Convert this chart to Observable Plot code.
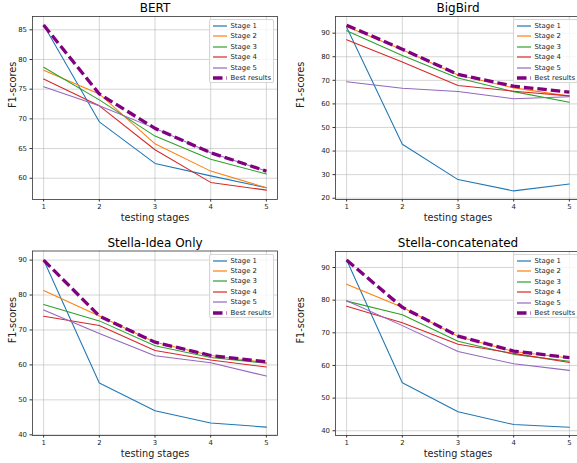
<!DOCTYPE html>
<html>
<head>
<meta charset="utf-8">
<script src="https://cdn.jsdelivr.net/npm/d3@7"></script>
<script src="https://cdn.jsdelivr.net/npm/@observablehq/plot@0.6"></script>
<style>
  html, body { margin: 0; padding: 0; background: white; }
  #wrap { position: relative; width: 577px; height: 463px; overflow: hidden; background: white; font-family: "DejaVu Sans", sans-serif; }
  #wrap > svg { position: absolute; }
  .legend { position: absolute; width: 65px; height: 64px; box-sizing: border-box; background: rgba(255,255,255,0.8); border: 1px solid rgba(204,204,204,0.8); border-radius: 2px; }
  .legend .row { position: absolute; left: 0; height: 10px; display: flex; align-items: center; font-size: 6.9px; color: #222; white-space: nowrap; }
  .legend .row svg { margin-left: 3px; margin-right: 4px; }
</style>
</head>
<body>
<div id="wrap"></div>
<script>
// ---- data ----
const stages = [1, 2, 3, 4, 5];
const seriesNames = ["Stage 1", "Stage 2", "Stage 3", "Stage 4", "Stage 5", "Best results"];
const stageColors = ["#1f77b4", "#ff7f0e", "#2ca02c", "#d62728", "#9467bd"];
const bestColor = "#800080";

const bertTitle = "BERT";
const bert1 = [85.8, 69.5, 62.5, 60.4, 58.4];
const bert2 = [78.2, 74.2, 65.8, 61.2, 58.4];
const bert3 = [78.7, 73.2, 67.1, 63.2, 60.7];
const bert4 = [76.7, 72.2, 64.8, 59.3, 58.0];
const bert5 = [75.4, 72.2, 68.4, 64.3, 61.2];
const bertBest = [85.8, 74.2, 68.4, 64.3, 61.2];
const bertTicks = [60, 65, 70, 75, 80, 85];

const bigbirdTitle = "BigBird";
const bigbird1 = [92.5, 42.9, 27.9, 23.1, 26.0];
const bigbird2 = [92.8, 83.0, 72.3, 66.8, 63.3];
const bigbird3 = [91.0, 80.5, 71.0, 65.2, 60.7];
const bigbird4 = [87.2, 77.8, 67.8, 65.4, 63.4];
const bigbird5 = [69.4, 66.6, 65.3, 62.2, 63.0];
const bigbirdBest = [93.4, 83.2, 72.5, 67.5, 65.0];
const bigbirdTicks = [20, 30, 40, 50, 60, 70, 80, 90];

const ideaTitle = "Stella-Idea Only";
const idea1 = [90.0, 54.8, 46.9, 43.4, 42.2];
const idea2 = [81.3, 74.0, 66.5, 62.7, 60.7];
const idea3 = [77.3, 72.6, 65.5, 62.1, 60.5];
const idea4 = [73.9, 71.3, 64.1, 61.4, 59.4];
const idea5 = [75.7, 69.0, 62.6, 60.6, 56.8];
const ideaBest = [90.0, 74.0, 66.5, 62.7, 60.9];
const ideaTicks = [40, 50, 60, 70, 80, 90];

const concatTitle = "Stella-concatenated";
const concat1 = [92.3, 54.7, 45.8, 41.9, 41.1];
const concat2 = [84.9, 77.8, 68.9, 64.3, 62.3];
const concat3 = [79.7, 75.5, 67.4, 63.4, 61.3];
const concat4 = [78.1, 73.1, 66.5, 63.7, 60.9];
const concat5 = [79.8, 72.2, 64.3, 60.5, 58.5];
const concatBest = [92.3, 77.8, 69.0, 64.4, 62.4];
const concatTicks = [40, 50, 60, 70, 80, 90];

const xLabel = "testing stages";
const yLabel = "F1-scores";

// ---- layout (not data) ----
const panels = [
  {title: bertTitle, series: [bert1, bert2, bert3, bert4, bert5], best: bertBest, ticks: bertTicks,
   domain: [56.42, 87.24], left: 0, top: 0, width: 288, height: 230, ml: 32, mr: 11, mt: 16, mb: 31, lgShift: 0},
  {title: bigbirdTitle, series: [bigbird1, bigbird2, bigbird3, bigbird4, bigbird5], best: bigbirdBest, ticks: bigbirdTicks,
   domain: [19.45, 97.07], left: 288, top: 0, width: 293, height: 230, ml: 47, mr: 1, mt: 16, mb: 31, lgShift: 1},
  {title: ideaTitle, series: [idea1, idea2, idea3, idea4, idea5], best: ideaBest, ticks: ideaTicks,
   domain: [39.8, 92.6], left: 0, top: 230, width: 288, height: 233, ml: 32, mr: 11, mt: 20.5, mb: 28, lgShift: 0},
  {title: concatTitle, series: [concat1, concat2, concat3, concat4, concat5], best: concatBest, ticks: concatTicks,
   domain: [38.55, 94.9], left: 288, top: 230, width: 293, height: 233, ml: 47, mr: 1, mt: 21, mb: 28, lgShift: 1}
];

const wrap = document.getElementById("wrap");

for (const p of panels) {
  const rows = [];
  p.series.forEach((vals, i) => vals.forEach((v, j) => rows.push({stage: stages[j], value: v, series: seriesNames[i]})));
  const bestRows = p.best.map((v, j) => ({stage: stages[j], value: v, series: seriesNames[5]}));

  const chart = Plot.plot({
    width: p.width,
    height: p.height,
    marginLeft: p.ml, marginRight: p.mr, marginTop: p.mt, marginBottom: p.mb,
    style: {fontFamily: "DejaVu Sans, sans-serif", fontSize: "6.9px", color: "#222", background: "white", overflow: "visible"},
    x: {domain: [0.8, 5.2], label: null},
    y: {domain: p.domain, label: null},
    color: {domain: seriesNames.slice(0, 5), range: stageColors},
    marks: [
      Plot.gridX(stages, {stroke: "#b0b0b0", strokeOpacity: 0.6, strokeWidth: 0.9}),
      Plot.gridY(p.ticks, {stroke: "#b0b0b0", strokeOpacity: 0.6, strokeWidth: 0.9}),
      Plot.axisX(stages, {tickSize: 2.5, tickPadding: 2.5, tickFormat: d => String(d), label: null, stroke: "#333"}),
      Plot.axisY(p.ticks, {tickSize: 2.5, tickPadding: 3, tickFormat: d => String(d), label: null, stroke: "#333"}),
      Plot.line(rows, {x: "stage", y: "value", z: "series", stroke: "series", strokeWidth: 1.05, clip: true}),
      Plot.line(bestRows, {x: "stage", y: "value", stroke: bestColor, strokeWidth: 3.3, strokeDasharray: "9.5,4", strokeLinecap: "butt", clip: true}),
      Plot.frame({stroke: "#333", strokeWidth: 0.8}),
      Plot.text([p.title], {frameAnchor: "top", dy: -8, text: d => d, fontSize: 12, fill: "black", lineAnchor: "middle"}),
      Plot.text([xLabel], {frameAnchor: "bottom", dy: 18, text: d => d, fontSize: 9.7, fill: "#222", lineAnchor: "middle"}),
      Plot.text([yLabel], {frameAnchor: "left", dx: -p.ml + 12, text: d => d, fontSize: 9.7, fill: "#222", rotate: -90, lineAnchor: "middle"})
    ]
  });
  chart.style.left = p.left + "px";
  chart.style.top = p.top + "px";
  wrap.appendChild(chart);

  // legend (upper right inside the frame)
  const frameRight = p.left + p.width - p.mr;
  const lg = document.createElement("div");
  lg.className = "legend";
  lg.style.left = (frameRight - 3.5 - 65 + p.lgShift) + "px";
  lg.style.top = (p.top + p.mt + 3) + "px";
  seriesNames.forEach((name, i) => {
    const row = document.createElement("div");
    row.className = "row";
    row.style.top = (1 + i * 10.45) + "px";
    const isBest = i === 5;
    const color = isBest ? bestColor : stageColors[i];
    row.innerHTML = `<svg width="14" height="6"><line x1="0" x2="14" y1="3" y2="3" stroke="${color}" stroke-width="${isBest ? 3.3 : 1.2}" ${isBest ? 'stroke-dasharray="9.5,4"' : ''}/></svg><span>${name}</span>`;
    lg.appendChild(row);
  });
  wrap.appendChild(lg);
}
</script>
</body>
</html>
